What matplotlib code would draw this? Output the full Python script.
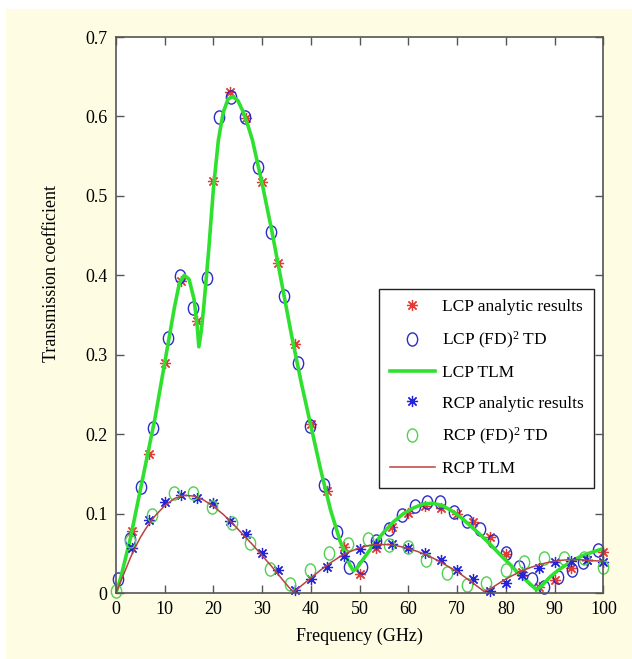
import matplotlib
matplotlib.use("Agg")
import matplotlib.pyplot as plt
from matplotlib.patches import Rectangle
from matplotlib.path import Path
import numpy

# LCP analytic results (red asterisks)
lcp_ana_freq = [3.3, 6.7, 10.0, 13.3, 16.7, 20.0, 23.3, 26.7, 30.0, 33.3,
                36.7, 40.0, 43.3, 46.7, 50.0, 53.3, 56.7, 60.0, 63.3, 66.7,
                70.0, 73.3, 76.7, 80.0, 83.3, 86.7, 90.0, 93.3, 96.7, 100.0]
lcp_ana_val = [0.078, 0.175, 0.290, 0.393, 0.343, 0.519, 0.631, 0.598, 0.517, 0.416,
               0.313, 0.213, 0.128, 0.058, 0.024, 0.057, 0.083, 0.101, 0.110, 0.107,
               0.100, 0.089, 0.070, 0.049, 0.027, 0.008, 0.016, 0.031, 0.042, 0.052]

# LCP (FD)^2 TD (blue circles)
lcp_fd_freq = [0.5, 2.9, 5.2, 7.5, 10.6, 13.2, 15.8, 18.6, 21.1, 23.6,
               26.4, 29.2, 31.8, 34.5, 37.3, 39.9, 42.6, 45.3, 47.9, 50.5,
               53.3, 56.0, 58.7, 61.4, 63.9, 66.5, 69.3, 72.0, 74.6, 77.3,
               80.0, 82.7, 85.4, 87.9, 90.7, 93.6, 95.9, 98.8]
lcp_fd_val = [0.018, 0.068, 0.134, 0.208, 0.321, 0.399, 0.359, 0.396, 0.599, 0.624,
              0.599, 0.536, 0.454, 0.374, 0.289, 0.210, 0.136, 0.077, 0.033, 0.033,
              0.065, 0.080, 0.098, 0.110, 0.114, 0.114, 0.102, 0.091, 0.080, 0.065,
              0.050, 0.033, 0.017, 0.007, 0.020, 0.029, 0.039, 0.054]

# LCP TLM (green line)
lcp_tlm_freq = [0, 1, 2, 3, 4, 5, 6, 7, 8, 9, 10, 11, 12, 13, 14, 15, 16, 16.6, 17.0,
                17.5, 18, 19, 20, 21, 22, 23, 24, 25, 26, 27, 28, 30, 32, 34, 36, 38,
                40, 42, 44, 46, 47, 48, 48.7, 49.5, 51, 53, 55, 57, 59, 61, 63, 65,
                67, 69, 71, 73, 75, 77, 79, 81, 83, 84.5, 86.3, 87.5, 89, 91, 93,
                95, 97, 100]
lcp_tlm_val = [0.0, 0.02, 0.045, 0.07, 0.1, 0.13, 0.16, 0.19, 0.22, 0.255, 0.29, 0.325,
               0.36, 0.39, 0.40, 0.395, 0.37, 0.34, 0.31, 0.33, 0.36, 0.43, 0.51, 0.57,
               0.605, 0.622, 0.625, 0.62, 0.607, 0.59, 0.57, 0.515, 0.455, 0.39, 0.325,
               0.265, 0.21, 0.155, 0.105, 0.065, 0.05, 0.035, 0.028, 0.032, 0.045,
               0.062, 0.077, 0.09, 0.1, 0.107, 0.112, 0.113, 0.11, 0.103, 0.094, 0.083,
               0.072, 0.06, 0.047, 0.035, 0.022, 0.014, 0.004, 0.01, 0.02, 0.03,
               0.038, 0.045, 0.05, 0.056]

# RCP analytic results (blue asterisks)
rcp_ana_freq = lcp_ana_freq
rcp_ana_val = [0.057, 0.092, 0.114, 0.123, 0.119, 0.113, 0.091, 0.074, 0.050, 0.029,
               0.004, 0.017, 0.033, 0.046, 0.056, 0.062, 0.062, 0.057, 0.050, 0.041,
               0.029, 0.017, 0.002, 0.012, 0.023, 0.031, 0.039, 0.040, 0.041, 0.039]

# RCP (FD)^2 TD (green circles)
rcp_fd_freq = [0.0, 2.9, 7.3, 11.8, 15.7, 19.6, 23.7, 27.5, 31.5, 35.6, 39.8, 43.6,
               47.5, 51.7, 56.0, 59.9, 63.7, 67.9, 72.0, 75.9, 80.0, 83.7, 87.9,
               92.0, 96.0, 99.9]
rcp_fd_val = [0.003, 0.065, 0.098, 0.126, 0.126, 0.108, 0.088, 0.063, 0.030, 0.011,
              0.029, 0.050, 0.062, 0.068, 0.061, 0.058, 0.041, 0.025, 0.010, 0.013,
              0.029, 0.039, 0.044, 0.044, 0.044, 0.033]

# RCP TLM (dark red line)
rcp_tlm_freq = [0, 1, 2, 3, 4, 5, 6, 7, 8, 10, 12, 14, 16, 18, 20, 22, 24, 26, 28, 30,
                32, 34, 35.5, 36.5, 38, 40, 42, 44, 46, 48, 50, 52, 54, 56, 58, 60,
                62, 64, 66, 68, 70, 72, 74, 75.5, 77, 79, 81, 83, 85, 87, 89, 91,
                93, 95, 97, 100]
rcp_tlm_val = [0.0, 0.015, 0.03, 0.045, 0.058, 0.07, 0.08, 0.089, 0.097, 0.11, 0.119,
               0.123, 0.122, 0.117, 0.109, 0.099, 0.087, 0.074, 0.061, 0.047, 0.033,
               0.018, 0.007, 0.001, 0.009, 0.019, 0.029, 0.038, 0.046, 0.052, 0.057,
               0.06, 0.061, 0.061, 0.059, 0.056, 0.052, 0.047, 0.041, 0.034, 0.027,
               0.018, 0.009, 0.002, 0.006, 0.014, 0.021, 0.027, 0.032, 0.036, 0.039,
               0.041, 0.042, 0.042, 0.041, 0.040]

x_ticks = [0, 10, 20, 30, 40, 50, 60, 70, 80, 90, 100]
y_ticks = [0, 0.1, 0.2, 0.3, 0.4, 0.5, 0.6, 0.7]
y_tick_names = ["0", "0.1", "0.2", "0.3", "0.4", "0.5", "0.6", "0.7"]

plt.rcParams["font.family"] = ["Liberation Serif", "DejaVu Serif"]
plt.rcParams["mathtext.fontset"] = "custom"
plt.rcParams["mathtext.rm"] = "Liberation Serif"
plt.rcParams["mathtext.it"] = "Liberation Serif:italic"

fig = plt.figure(figsize=(6.32, 6.59), dpi=100, facecolor="white")
fig.patches.append(Rectangle((6 / 632, 0), 1, 650 / 659, transform=fig.transFigure,
                             facecolor="#fefde4", edgecolor="none", zorder=-10))
ax = fig.add_axes([116 / 632, 1 - 593 / 659, 487.4 / 632, 556 / 659])
ax.set_facecolor("white")

# slightly tall ellipse, like the squashed circles of the original
circ = Path.unit_circle()
ellipse = Path(circ.vertices * numpy.array([0.78, 1.0]), circ.codes)
star = (8, 2, 0)

ax.plot(lcp_ana_freq, lcp_ana_val, ls="none", marker=star, ms=8, mew=0.9,
        color="#e33b35", clip_on=False, label="LCP analytic results")
ax.plot(lcp_fd_freq, lcp_fd_val, ls="none", marker=ellipse, ms=9.5, mew=1.0,
        mfc="none", mec="#2b2bc8", clip_on=False, label=r"LCP (FD)$^\mathrm{2}$ TD")
ax.plot(lcp_tlm_freq, lcp_tlm_val, color="#2fe02f", lw=2.6, label="LCP TLM")
ax.plot(rcp_ana_freq, rcp_ana_val, ls="none", marker=star, ms=8, mew=0.9,
        color="#2424d8", clip_on=False, label="RCP analytic results")
ax.plot(rcp_fd_freq, rcp_fd_val, ls="none", marker=ellipse, ms=9.5, mew=1.0,
        mfc="none", mec="#4fd04f", clip_on=False, label=r"RCP (FD)$^\mathrm{2}$ TD")
ax.plot(rcp_tlm_freq, rcp_tlm_val, color="#b84242", lw=1.1, label="RCP TLM")

ax.set_xlim(0, 100)
ax.set_ylim(0, 0.7)
ax.set_xticks(x_ticks)
ax.set_yticks(y_ticks, y_tick_names)
ax.tick_params(direction="in", length=6, width=1.0, color="#555555", labelsize=13,
               top=True, right=True, pad=6)
for s in ax.spines.values():
    s.set_color("#555555")
    s.set_linewidth(1.2)

ax.set_xlabel("Frequency (GHz)", fontsize=13)
ax.xaxis.set_label_coords(0.5, -0.078)
ax.xaxis.label.set_va("center")
ax.set_ylabel("Transmission coefficient", fontsize=13)
ax.yaxis.set_label_coords(-0.132, 0.574)
ax.yaxis.label.set_va("center")

leg = ax.legend(loc="upper right", bbox_to_anchor=(0.981, 0.547), fontsize=12.5,
                frameon=True, fancybox=False, framealpha=1, edgecolor="#222222",
                handlelength=2.6, handletextpad=0.4, labelspacing=0.82,
                borderpad=0.6, borderaxespad=0)
leg.get_frame().set_linewidth(1.0)

fig.savefig("out.png", dpi=100, facecolor=fig.get_facecolor())
